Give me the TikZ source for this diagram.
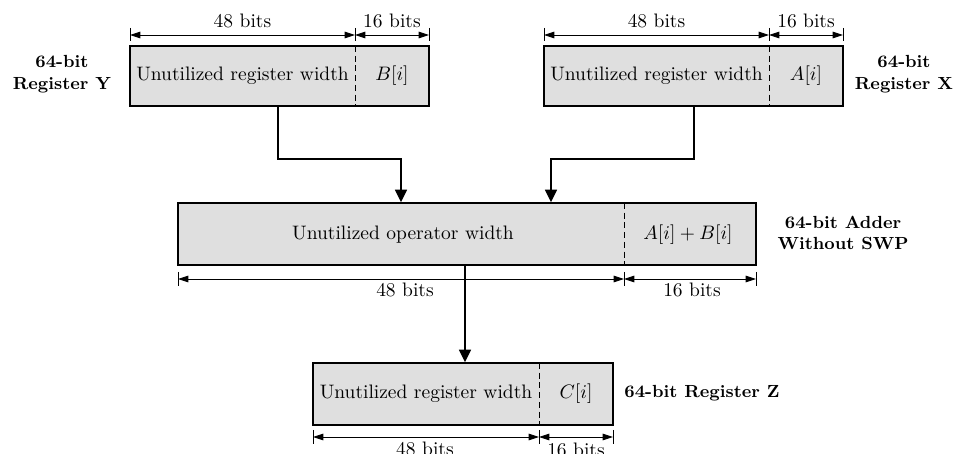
\documentclass[tikz,border=0pt]{standalone}
\usetikzlibrary{arrows.meta,calc}
\newcommand\pxu{0.513pt}
\definecolor{boxfill}{HTML}{DFDFDF}
\begin{document}
\begin{tikzpicture}[x=0.513pt,y=-0.513pt,
  regbox/.style={draw=black,line width=0.75pt,fill=boxfill,rectangle,inner sep=0pt},
  divider/.style={dashed,line width=0.5pt,dash pattern=on 3pt off 2pt},
  conn/.style={line width=0.7pt,-{Triangle[length=6.5pt,width=6.2pt]}},
  dimarrow/.style={line width=0.45pt,{Triangle[length=5.3pt,width=3.4pt]}-{Triangle[length=5.3pt,width=3.4pt]}},
  dimtick/.style={line width=0.5pt},
  boxtext/.style={inner sep=0pt,font=\normalsize},
  bitstext/.style={inner sep=0pt,font=\normalsize},
  reglabel/.style={inner sep=0pt,font=\small\bfseries,align=center}]
\useasboundingbox (0,0) rectangle (957,454);

% ---------- boxes ----------
\node[regbox,minimum width=299*\pxu,minimum height=60*\pxu] (Y) at (279.5,76) {};
\node[regbox,minimum width=299*\pxu,minimum height=60*\pxu] (X) at (693.5,76) {};
\node[regbox,minimum width=578*\pxu,minimum height=62*\pxu] (M) at (467,234) {};
\node[regbox,minimum width=300*\pxu,minimum height=62*\pxu] (Z) at (463,394) {};

% ---------- dividers ----------
\coordinate (Yd) at (355,46);
\coordinate (Xd) at (769,46);
\coordinate (Md) at (624,203);
\coordinate (Zd) at (539,363);
\draw[divider] (Yd) -- (Yd |- Y.south);
\draw[divider] (Xd) -- (Xd |- X.south);
\draw[divider] (Md) -- (Md |- M.south);
\draw[divider] (Zd) -- (Zd |- Z.south);

% ---------- box texts ----------
\node[boxtext] (Yt) at (242.5,76) {Unutilized register width};
\node[boxtext] (Yv) at (392,76) {$B[i]$};
\node[boxtext] (Xt) at (656.5,76) {Unutilized register width};
\node[boxtext] (Xv) at (806,76) {$A[i]$};
\node[boxtext] (Mt) at (403,235) {Unutilized operator width};
\node[boxtext] (Mv) at (688,235) {$A[i]+B[i]$};
\node[boxtext] (Zt) at (426,394) {Unutilized register width};
\node[boxtext] (Zv) at (576,394) {$C[i]$};

% ---------- register labels ----------
\node[reglabel] (Yl) at (62,74) {64-bit\\Register Y};
\node[reglabel] (Xl) at (904,74) {64-bit\\Register X};
\node[reglabel] (Ml) at (843,233) {64-bit Adder\\Without SWP};
\node[reglabel,anchor=west] (Zl) at (624,393) {64-bit Register Z};

% ---------- dimension lines ----------
% Y
\coordinate (ya) at (130,35); \coordinate (yb) at (355,35); \coordinate (yc) at (429,35);
\foreach \c in {ya,yb,yc} \draw[dimtick] ($(\c)+(0,-7)$) -- ($(\c)+(0,6)$);
\draw[dimarrow] (ya) -- (yb);
\draw[dimarrow] (yb) -- (yc);
\node[bitstext] (y48) at (242.5,21) {48 bits};
\node[bitstext] (y16) at (392,21) {16 bits};
% X
\coordinate (xa) at (544,35); \coordinate (xb) at (769,35); \coordinate (xc) at (843,35);
\foreach \c in {xa,xb,xc} \draw[dimtick] ($(\c)+(0,-7)$) -- ($(\c)+(0,6)$);
\draw[dimarrow] (xa) -- (xb);
\draw[dimarrow] (xb) -- (xc);
\node[bitstext] (x48) at (656.5,21) {48 bits};
\node[bitstext] (x16) at (806,21) {16 bits};
% M
\coordinate (ma) at (178,279); \coordinate (mb) at (624,279); \coordinate (mc) at (756,279);
\foreach \c in {ma,mb,mc} \draw[dimtick] ($(\c)+(0,-7)$) -- ($(\c)+(0,7)$);
\draw[dimarrow] (ma) -- (mb);
\draw[dimarrow] (mb) -- (mc);
\node[bitstext] (m48) at (405,290) {48 bits};
\node[bitstext] (m16) at (692,290) {16 bits};
% Z
\coordinate (za) at (313,437); \coordinate (zb) at (539,437); \coordinate (zc) at (613,437);
\foreach \c in {za,zb,zc} \draw[dimtick] ($(\c)+(0,-7)$) -- ($(\c)+(0,7)$);
\draw[dimarrow] (za) -- (zb);
\draw[dimarrow] (zb) -- (zc);
\node[bitstext] (z48) at (425,449) {48 bits};
\node[bitstext] (z16) at (576,450) {16 bits};

% ---------- connectors ----------
\coordinate (jy) at (401,159);
\coordinate (jx) at (551,159);
\coordinate (ys) at (278,106);
\coordinate (xs) at (694,106);
\draw[conn] (ys) |- (jy) -- (jy |- M.north);
\draw[conn] (xs) |- (jx) -- (jx |- M.north);
\coordinate (ms) at (465,265);
\draw[conn] (ms) -- (ms |- Z.north);
\end{tikzpicture}
\end{document}
